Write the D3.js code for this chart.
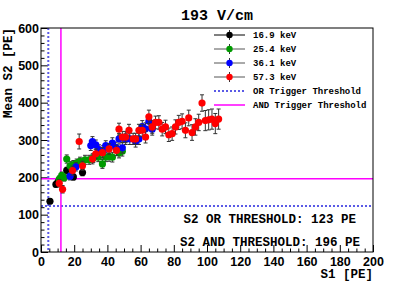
<!DOCTYPE html>
<html>
<head>
<meta charset="utf-8">
<script src="https://cdn.jsdelivr.net/npm/d3@7"></script>
<style>
  body { margin: 0; background: #fff; }
  svg { display: block; }
</style>
</head>
<body>
<div id="chart"></div>
<script>
// 16.9 keV
var s1_169 = [5.4, 9, 10.2, 15.5, 17.5, 19.5, 25];
var s2_169 = [136, 181, 187, 219, 210, 201, 213];
var err_169 = [7, 7, 7, 8, 8, 8, 9];
// 25.4 keV
var s1_254 = [11, 12.5, 14, 15.5, 17.5, 19.5, 21.5, 23.5, 26.5, 29, 31.5, 34.5, 37, 39, 41, 43, 47, 49];
var s2_254 = [195, 205, 199, 249, 231, 234, 238, 243, 247, 247, 252, 254, 236, 254, 256, 254, 265, 270];
var err_254 = [9, 9, 9, 11, 11, 11, 11, 11, 12, 12, 12, 12, 12, 12, 13, 13, 13, 13];
// 36.1 keV
var s1_361 = [17.5, 21, 30, 31, 33, 35, 37.5, 39, 43, 45, 47, 49, 51, 53.5, 57, 59, 61, 63, 65, 67];
var s2_361 = [203, 228, 285, 296, 287, 274, 272, 285, 292, 280, 303, 279, 303, 303, 296, 303, 336, 330, 350, 329];
var err_361 = [10, 11, 13, 13, 13, 13, 13, 13, 14, 14, 14, 14, 15, 15, 15, 15, 16, 16, 16, 16];
// 57.3 keV
var s1_573 = [11, 13, 19, 23, 25, 31, 33, 37, 41, 45.5, 47, 49, 51, 53, 55.5, 57, 59, 61, 63, 65, 67, 69, 71, 73, 75, 77, 79, 81, 83, 85, 87, 89, 91, 93, 95, 97, 99, 101, 103, 105, 107];
var s2_573 = [184, 168, 218, 296, 231, 249, 263, 266, 276, 272, 329, 308, 308, 326, 303, 303, 326, 326, 308, 362, 335, 347, 347, 329, 335, 314, 317, 335, 347, 350, 326, 359, 320, 335, 347, 399, 352, 354, 356, 344, 356];
var err_573 = [10, 10, 12, 20, 12, 13, 13, 14, 14, 14, 16, 15, 15, 16, 15, 15, 16, 16, 16, 18, 17, 17, 18, 18, 18, 18, 18, 19, 19, 20, 20, 21, 21, 22, 22, 22, 27, 27, 27, 27, 27];

var series_names = ["16.9 keV", "25.4 keV", "36.1 keV", "57.3 keV"];
var series_colors = ["#000000", "#009a00", "#0000ff", "#ff0000"];
var series_s1 = [s1_169, s1_254, s1_361, s1_573];
var series_s2 = [s2_169, s2_254, s2_361, s2_573];
var series_err = [err_169, err_254, err_361, err_573];

var or_threshold = 123;
var and_threshold = 196;
var or_s1 = 4.4;
var and_s1 = 12;

var x_ticks = [0, 20, 40, 60, 80, 100, 120, 140, 160, 180, 200];
var y_ticks = [0, 100, 200, 300, 400, 500, 600];

var width = 415, height = 281;
var p_left = 41, p_right = 373, p_top = 28, p_bottom = 252;
var mono = "'Liberation Mono', 'DejaVu Sans Mono', monospace";
var sans = "'Liberation Sans', Arial, sans-serif";
var or_color = "#5a5ae6";
var and_color = "#ff00ff";

var svg = d3.select("#chart").append("svg")
            .attr("width", width)
            .attr("height", height);
svg.append("rect").attr("width", width).attr("height", height).attr("fill", "#fff");

var x = d3.scaleLinear().domain([0, 200]).range([p_left, p_right]);
var y = d3.scaleLinear().domain([0, 600]).range([p_bottom, p_top]);

// minor ticks
var x_minor = d3.range(0, 201, 5).filter(function(v){ return v % 20 != 0; });
var y_minor = d3.range(0, 601, 20).filter(function(v){ return v % 100 != 0; });

svg.append("g").attr("transform", "translate(0," + p_bottom + ")")
    .call(d3.axisBottom(x).tickValues(x_minor).tickSize(-3.5).tickFormat(""));
svg.append("g").attr("transform", "translate(0," + p_bottom + ")")
    .call(d3.axisBottom(x).tickValues(x_ticks).tickSize(-7).tickPadding(5).tickFormat(d3.format("d")));
svg.append("g").attr("transform", "translate(" + p_left + ",0)")
    .call(d3.axisLeft(y).tickValues(y_minor).tickSize(-3.5).tickFormat(""));
svg.append("g").attr("transform", "translate(" + p_left + ",0)")
    .call(d3.axisLeft(y).tickValues(y_ticks).tickSize(-7).tickPadding(2).tickFormat(d3.format("d")));

svg.selectAll(".domain").remove();
svg.selectAll(".tick line").attr("stroke", "#000").attr("stroke-width", 1);
svg.selectAll(".tick text")
   .attr("fill", "#000")
   .style("font-family", sans)
   .style("font-weight", "bold")
   .style("font-size", "12.5px");

// threshold lines
svg.append("line")
   .attr("x1", p_left).attr("x2", p_right)
   .attr("y1", y(or_threshold)).attr("y2", y(or_threshold))
   .attr("stroke", or_color).attr("stroke-width", 2).attr("stroke-dasharray", "2,2");
svg.append("line")
   .attr("x1", x(or_s1)).attr("x2", x(or_s1))
   .attr("y1", p_top).attr("y2", p_bottom)
   .attr("stroke", or_color).attr("stroke-width", 2).attr("stroke-dasharray", "2,2");
svg.append("line")
   .attr("x1", p_left).attr("x2", p_right)
   .attr("y1", y(and_threshold)).attr("y2", y(and_threshold))
   .attr("stroke", and_color).attr("stroke-width", 1.5);
svg.append("line")
   .attr("x1", x(and_s1)).attr("x2", x(and_s1))
   .attr("y1", p_top).attr("y2", p_bottom)
   .attr("stroke", and_color).attr("stroke-width", 1.5);

// data points with error bars
for (var i = 0; i < series_names.length; i++) {
    var pts = series_s1[i].map(function(v, j){
        return { s1: v, s2: series_s2[i][j], err: series_err[i][j] };
    });
    var g = svg.append("g");
    var bars = g.selectAll("g.pt").data(pts).enter().append("g").attr("class", "pt");
    bars.append("line")
        .attr("x1", function(d){ return x(d.s1); })
        .attr("x2", function(d){ return x(d.s1); })
        .attr("y1", function(d){ return y(d.s2 - d.err); })
        .attr("y2", function(d){ return y(d.s2 + d.err); })
        .attr("stroke", "#333").attr("stroke-width", 1);
    bars.append("line")
        .attr("x1", function(d){ return x(d.s1) - 2; })
        .attr("x2", function(d){ return x(d.s1) + 2; })
        .attr("y1", function(d){ return y(d.s2 + d.err); })
        .attr("y2", function(d){ return y(d.s2 + d.err); })
        .attr("stroke", "#333").attr("stroke-width", 1);
    bars.append("line")
        .attr("x1", function(d){ return x(d.s1) - 2; })
        .attr("x2", function(d){ return x(d.s1) + 2; })
        .attr("y1", function(d){ return y(d.s2 - d.err); })
        .attr("y2", function(d){ return y(d.s2 - d.err); })
        .attr("stroke", "#333").attr("stroke-width", 1);
    g.selectAll("circle").data(pts).enter().append("circle")
        .attr("cx", function(d){ return x(d.s1); })
        .attr("cy", function(d){ return y(d.s2); })
        .attr("r", 3.6)
        .attr("fill", series_colors[i]);
}

// frame
svg.append("rect")
   .attr("x", p_left).attr("y", p_top)
   .attr("width", p_right - p_left).attr("height", p_bottom - p_top)
   .attr("fill", "none").attr("stroke", "#000").attr("stroke-width", 1);

// legend
var leg_x1 = 214, leg_x2 = 245, leg_text = 253;
var leg_y = [35, 49, 63, 77, 91, 105];
for (var k = 0; k < series_names.length; k++) {
    var ly = leg_y[k];
    svg.append("line").attr("x1", leg_x1).attr("x2", leg_x2).attr("y1", ly).attr("y2", ly)
       .attr("stroke", k == 0 ? "#000" : "#555").attr("stroke-width", 1);
    svg.append("line").attr("x1", (leg_x1 + leg_x2) / 2).attr("x2", (leg_x1 + leg_x2) / 2)
       .attr("y1", ly - 5).attr("y2", ly + 5).attr("stroke", "#333");
    svg.append("circle").attr("cx", (leg_x1 + leg_x2) / 2).attr("cy", ly).attr("r", 3.2)
       .attr("fill", series_colors[k]);
    svg.append("text").attr("x", leg_text).attr("y", ly + 3)
       .style("font-family", mono).style("font-weight", "bold").style("font-size", "9px")
       .text(series_names[k]);
}
svg.append("line").attr("x1", leg_x1).attr("x2", leg_x2).attr("y1", leg_y[4]).attr("y2", leg_y[4])
   .attr("stroke", or_color).attr("stroke-width", 2).attr("stroke-dasharray", "2,2");
svg.append("text").attr("x", leg_text).attr("y", leg_y[4] + 3)
   .style("font-family", mono).style("font-weight", "bold").style("font-size", "9px")
   .text("OR Trigger Threshold");
svg.append("line").attr("x1", leg_x1).attr("x2", leg_x2).attr("y1", leg_y[5]).attr("y2", leg_y[5])
   .attr("stroke", and_color).attr("stroke-width", 1.5);
svg.append("text").attr("x", leg_text).attr("y", leg_y[5] + 3)
   .style("font-family", mono).style("font-weight", "bold").style("font-size", "9px")
   .text("AND Trigger Threshold");

// threshold labels
svg.append("text").attr("x", 356).attr("y", 223).attr("text-anchor", "end")
   .style("font-family", mono).style("font-weight", "bold").style("font-size", "12.5px")
   .text("S2 OR THRESHOLD: " + or_threshold + " PE");
svg.append("text").attr("x", 360).attr("y", 246).attr("text-anchor", "end")
   .style("font-family", mono).style("font-weight", "bold").style("font-size", "12.5px")
   .text("S2 AND THRESHOLD: " + and_threshold + " PE");

// titles
svg.append("text").attr("x", 217).attr("y", 20).attr("text-anchor", "middle")
   .style("font-family", mono).style("font-weight", "bold").style("font-size", "15px")
   .text("193 V/cm");
svg.append("text").attr("x", p_right).attr("y", 278).attr("text-anchor", "end")
   .style("font-family", mono).style("font-weight", "bold").style("font-size", "12.5px")
   .text("S1 [PE]");
svg.append("text").attr("transform", "translate(12," + p_top + ") rotate(-90)")
   .attr("text-anchor", "end")
   .style("font-family", mono).style("font-weight", "bold").style("font-size", "12.5px")
   .text("Mean S2 [PE]");
</script>
</body>
</html>
